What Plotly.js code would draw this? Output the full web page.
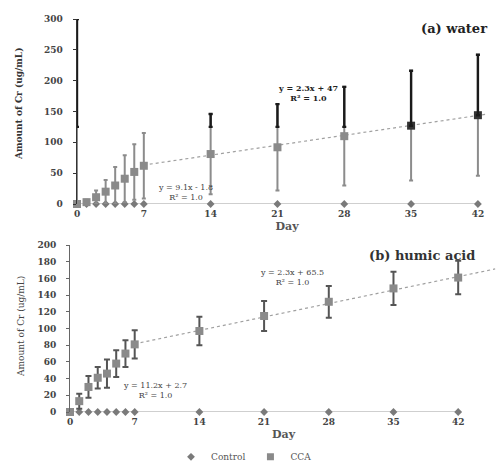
<!DOCTYPE html>
<html>
<head>
<meta charset="utf-8">
<script src="https://cdn.plot.ly/plotly-3.0.1.min.js"></script>
<style>html,body{margin:0;padding:0;background:#fff;}#chart{width:497px;height:463px;}</style>
</head>
<body>
<div id="chart"></div>
<script>
// ---- data ----
const days = [0, 1, 2, 3, 4, 5, 6, 7, 14, 21, 28, 35, 42];
const waterCCA = [0, 3, 11, 20, 30, 41, 52, 62, 81, 92, 110, 127, 144];
const waterErr = [300, 4, 11, 19, 30, 38, 45, 53, 65, 70, 80, 89, 98];
const waterControl = [0, 0, 0, 0, 0, 0, 0, 0, 0, 0, 0, 0, 0];
const humicCCA = [0, 13, 30, 41, 46, 58, 70, 81, 97, 115, 132, 148, 161];
const humicErr = [0, 9, 13, 13, 17, 16, 16, 17, 17, 18, 19, 20, 20];
const humicControl = [0, 0, 0, 0, 0, 0, 0, 0, 0, 0, 0, 0, 0];
const waterFit = [2.3, 47];      // slope, intercept
const waterFitRange = [7, 43];
const humicFit = [2.3, 65.5];
const humicFitRange = [7, 46];
const xTicks = [0, 7, 14, 21, 28, 35, 42];
const waterDarkFrom = 125;       // scan artifact: upper part of bars drawn darker

const serif = 'DejaVu Serif, Liberation Serif, serif';
const fitLine = (p, r) => ({x: r, y: r.map(v => p[0] * v + p[1])});

const wf = fitLine(waterFit, waterFitRange);
const hf = fitLine(humicFit, humicFitRange);

const darkBase = days.map((d, i) => waterCCA[i] + waterErr[i] > waterDarkFrom ? Math.max(waterCCA[i], waterDarkFrom) : null);
const darkPlus = days.map((d, i) => darkBase[i] === null ? 0 : waterCCA[i] + waterErr[i] - darkBase[i]);

const traces = [
  // top panel
  {x: wf.x, y: wf.y, xaxis: 'x', yaxis: 'y', mode: 'lines', line: {color: '#a0a0a0', width: 1.2, dash: 'dot'}, showlegend: false, hoverinfo: 'skip'},
  {x: days, y: waterControl, xaxis: 'x', yaxis: 'y', mode: 'lines+markers', line: {color: '#a0a0a0', width: 1.2},
   marker: {symbol: 'diamond', size: 6, color: '#7a7a7a'}, showlegend: false, cliponaxis: false},
  {x: days, y: waterCCA, xaxis: 'x', yaxis: 'y', mode: 'markers',
   marker: {symbol: 'square', size: 8, color: days.map((d, i) => waterCCA[i] > waterDarkFrom ? '#333' : '#8a8a8a')},
   error_y: {type: 'data', array: waterErr, arrayminus: waterErr.map((e, i) => Math.min(e, waterCCA[i])), color: '#8c8c8c', thickness: 2, width: 2},
   showlegend: false, cliponaxis: false},
  {x: days, y: darkBase, xaxis: 'x', yaxis: 'y', mode: 'markers', marker: {size: 1, color: 'rgba(0,0,0,0)'},
   error_y: {type: 'data', symmetric: false, array: darkPlus, arrayminus: darkPlus.map(() => 0), color: '#1a1a1a', thickness: 2.4, width: 2},
   showlegend: false, hoverinfo: 'skip', cliponaxis: false},
  // bottom panel
  {x: hf.x, y: hf.y, xaxis: 'x2', yaxis: 'y2', mode: 'lines', line: {color: '#a0a0a0', width: 1.2, dash: 'dot'}, showlegend: false, hoverinfo: 'skip'},
  {x: days, y: humicControl, xaxis: 'x2', yaxis: 'y2', mode: 'lines+markers', line: {color: '#a0a0a0', width: 1.2},
   marker: {symbol: 'diamond', size: 6, color: '#7a7a7a'}, showlegend: false, cliponaxis: false},
  {x: days, y: humicCCA, xaxis: 'x2', yaxis: 'y2', mode: 'markers',
   marker: {symbol: 'square', size: 8, color: '#8a8a8a'},
   error_y: {type: 'data', array: humicErr, color: '#555', thickness: 2, width: 3},
   showlegend: false, cliponaxis: false},
  // legend entries
  {x: [null], y: [null], xaxis: 'x2', yaxis: 'y2', mode: 'markers', name: 'Control', marker: {symbol: 'diamond', size: 6, color: '#7a7a7a'}},
  {x: [null], y: [null], xaxis: 'x2', yaxis: 'y2', mode: 'markers', name: 'CCA', marker: {symbol: 'square', size: 7, color: '#8a8a8a'}}
];

const tickFont = {family: serif, size: 9, color: '#444', weight: 'bold'};
const xCommon = {tickvals: xTicks, ticks: '', showgrid: false, zeroline: false, showline: false, tickfont: tickFont,
  ticklabelstandoff: 3, fixedrange: true, automargin: false};
const yCommon = {showgrid: false, zeroline: false, showline: true, ticks: 'outside', ticklen: 3, tickfont: tickFont,
  ticklabelstandoff: 8, fixedrange: true, automargin: false};
const dayTitle = {text: 'Day', font: {family: serif, size: 11, color: '#555', weight: 'bold'}, standoff: 4};

const layout = {
  width: 497, height: 463,
  margin: {l: 0, r: 0, t: 0, b: 0, autoexpand: false},
  paper_bgcolor: '#fff', plot_bgcolor: 'rgba(0,0,0,0)',
  xaxis: Object.assign({}, xCommon, {domain: [77 / 497, 1], range: [0, 44], anchor: 'y', title: dayTitle}),
  yaxis: Object.assign({}, yCommon, {domain: [259 / 463, 444 / 463], range: [0, 300], dtick: 50, anchor: 'x',
    linecolor: '#333', linewidth: 1.5, tickcolor: '#333'}),
  xaxis2: Object.assign({}, xCommon, {domain: [70 / 497, 1], range: [0, 46.2], anchor: 'y2', title: dayTitle}),
  yaxis2: Object.assign({}, yCommon, {domain: [51 / 463, 218 / 463], range: [0, 200], dtick: 20, anchor: 'x2',
    linecolor: '#666', linewidth: 1, tickcolor: '#666'}),
  showlegend: true,
  legend: {orientation: 'h', x: 244 / 497, xanchor: 'center', y: -0.018, yanchor: 'bottom',
    font: {family: serif, size: 9, color: '#555'}, itemwidth: 30, tracegroupgap: 0, bgcolor: 'rgba(0,0,0,0)'},
  annotations: [
    {text: '(a) water', xref: 'paper', yref: 'paper', x: 489 / 497, y: 1 - 28 / 463, xanchor: 'right', yanchor: 'middle', showarrow: false,
     font: {family: serif, size: 13, color: '#222', weight: 'bold'}},
    {text: '(b) humic acid', xref: 'paper', yref: 'paper', x: 367 / 497, y: 1 - 255 / 463, xanchor: 'left', yanchor: 'middle', showarrow: false,
     font: {family: serif, size: 13, color: '#333', weight: 'bold'}},
    {text: 'Amount of Cr (ug/mL)', xref: 'paper', yref: 'paper', x: 19 / 497, y: 1 - 104 / 463, textangle: -90, showarrow: false,
     xanchor: 'center', yanchor: 'middle', font: {family: serif, size: 9, color: '#333', weight: 'bold'}},
    {text: 'Amount of Cr (ug/mL)', xref: 'paper', yref: 'paper', x: 21 / 497, y: 1 - 327 / 463, textangle: -90, showarrow: false,
     xanchor: 'center', yanchor: 'middle', font: {family: serif, size: 9, color: '#444'}},
    {text: 'y = 2.3x + 47<br>R² = 1.0', xref: 'paper', yref: 'paper', x: 308 / 497, y: 1 - 93 / 463, showarrow: false,
     xanchor: 'center', yanchor: 'middle', font: {family: serif, size: 8, color: '#222', weight: 'bold'}},
    {text: 'y = 9.1x - 1.8<br>R² = 1.0', xref: 'paper', yref: 'paper', x: 185 / 497, y: 1 - 192 / 463, showarrow: false,
     xanchor: 'center', yanchor: 'middle', font: {family: serif, size: 8, color: '#444'}},
    {text: 'y = 2.3x + 65.5<br>R² = 1.0', xref: 'paper', yref: 'paper', x: 292 / 497, y: 1 - 277 / 463, showarrow: false,
     xanchor: 'center', yanchor: 'middle', font: {family: serif, size: 8, color: '#444'}},
    {text: 'y = 11.2x + 2.7<br>R² = 1.0', xref: 'paper', yref: 'paper', x: 155 / 497, y: 1 - 390 / 463, showarrow: false,
     xanchor: 'center', yanchor: 'middle', font: {family: serif, size: 8, color: '#444'}}
  ]
};

Plotly.newPlot('chart', traces, layout, {displayModeBar: false, staticPlot: true});
</script>
</body>
</html>
